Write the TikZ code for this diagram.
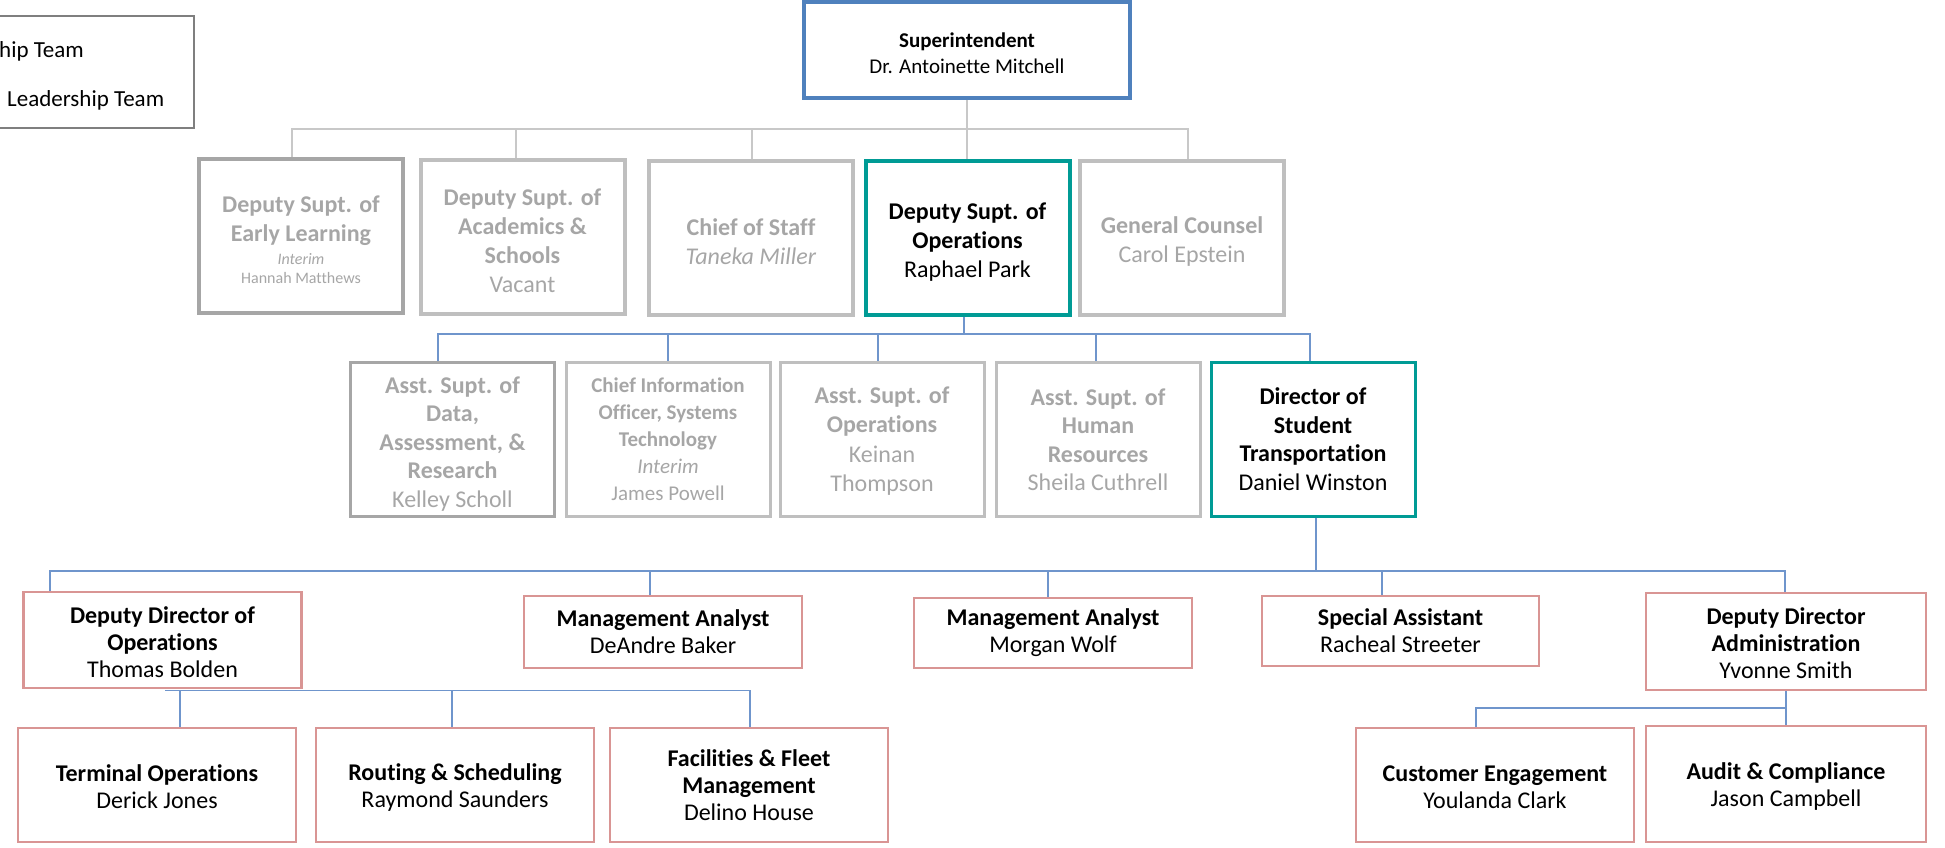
\documentclass[tikz,border=0pt]{standalone}
\usepackage{fontspec}
\setmainfont{Carlito}[Ligatures=NoCommon]
\definecolor{supblue}{HTML}{4F81BD}
\definecolor{tealb}{HTML}{009B95}
\definecolor{dgray}{HTML}{A6A6A6}
\definecolor{lgray}{HTML}{BFBFBF}
\definecolor{txgray}{HTML}{A6A6A6}
\definecolor{redb}{HTML}{D99594}
\definecolor{connblue}{HTML}{6F95CC}
\definecolor{conngray}{HTML}{C8C8C8}
\definecolor{leggray}{HTML}{7F7F7F}
\newcommand\tpa{\rule{0pt}{25pt}}
\newcommand\tpb{\rule{0pt}{21pt}}
\newcommand\tpc{\rule{0pt}{22pt}}
\tikzset{
  box/.style={draw, inner sep=0pt, align=center, anchor=center},
  suptbox/.style={box, draw=supblue, line width=3.5pt, minimum width=326pt, minimum height=96pt, font=\fontsize{21}{26}\selectfont},
  lvone/.style={box, line width=4pt, minimum width=204pt, minimum height=154pt, font=\fontsize{24}{29}\selectfont},
  lvtwo/.style={box, line width=3pt, minimum width=204pt, minimum height=154pt, font=\fontsize{24}{28.5}\selectfont},
  inact/.style={text=txgray},
  staff/.style={box, draw=redb, line width=2.3pt, minimum width=278pt, font=\fontsize{24}{27}\selectfont},
  gconn/.style={draw=conngray, line width=2pt},
  bconn/.style={draw=connblue, line width=1.6pt},
  legtext/.style={inner sep=0pt, font=\fontsize{23}{27}\selectfont}
}
\begin{document}
\begin{tikzpicture}[x=1pt,y=-1pt]
\useasboundingbox (0,0) rectangle (1945,847);
\clip (0,0) rectangle (1945,847);

% legend (cropped at left)
\node[draw=leggray, line width=2pt, minimum width=204pt, minimum height=112pt, inner sep=0pt] (legend) at (92,72) {};
\node[legtext, anchor=west] (legone) at (-1,51) {hip Team};
\node[legtext, anchor=west] (legtwo) at (7,100) {Leadership Team};

% superintendent
\node[suptbox] (sup) at (967,50) {\tpc\textbf{Superintendent}\\Dr. Antoinette Mitchell};

% level 1
\node[lvone, draw=dgray, inact] (a) at (301,236) {\tpa\textbf{Deputy Supt. of}\\\textbf{Early Learning}\\[-6pt]{\fontsize{16}{19}\selectfont\itshape Interim}\\[-10pt]{\fontsize{16}{19}\selectfont Hannah Matthews}};
\node[lvone, draw=lgray, inact] (b) at (522.5,237) {\tpa\textbf{Deputy Supt. of}\\\textbf{Academics \&}\\\textbf{Schools}\\Vacant};
\node[lvone, draw=lgray, inact] (c) at (751,238) {\tpa\textbf{Chief of Staff}\\\textit{Taneka Miller}};
\node[lvone, draw=tealb] (d) at (967.5,237.5) {\tpa\textbf{Deputy Supt. of}\\\textbf{Operations}\\Raphael Park};
\node[lvone, draw=lgray, inact] (e) at (1182,237.5) {\tpa\textbf{General Counsel}\\Carol Epstein};

% level 2
\node[lvtwo, draw=dgray, inact] (f) at (452.5,439.5) {\tpa\textbf{Asst. Supt. of}\\\textbf{Data,}\\\textbf{Assessment, \&}\\\textbf{Research}\\Kelley Scholl};
\node[lvtwo, draw=lgray, inact, font=\fontsize{21}{27}\selectfont] (g) at (668,439) {\textbf{Chief Information}\\\textbf{Officer, Systems}\\\textbf{Technology}\\\textit{Interim}\\James Powell};
\node[lvtwo, draw=lgray, inact, font=\fontsize{24}{29.5}\selectfont] (h) at (882,439) {\tpb\textbf{Asst. Supt. of}\\\textbf{Operations}\\Keinan\\Thompson};
\node[lvtwo, draw=lgray, inact] (i) at (1098,439.5) {\textbf{Asst. Supt. of}\\\textbf{Human}\\\textbf{Resources}\\Sheila Cuthrell};
\node[lvtwo, draw=tealb] (j) at (1313,439) {\textbf{Director of}\\\textbf{Student}\\\textbf{Transportation}\\Daniel Winston};

% level 3
\node[staff, minimum height=96pt] (k) at (162.5,640) {\tpb\textbf{Deputy Director of}\\\textbf{Operations}\\Thomas Bolden};
\node[staff, minimum height=72pt] (l) at (663,632) {\textbf{Management Analyst}\\DeAndre Baker};
\node[staff, minimum height=70pt] (m) at (1053,633) {\textbf{Management Analyst}\\Morgan Wolf};
\node[staff, minimum width=277pt, minimum height=70pt] (n) at (1400.5,631) {\textbf{Special Assistant}\\Racheal Streeter};
\node[staff, minimum width=280pt, minimum height=97pt] (o) at (1786,641.5) {\tpb\textbf{Deputy Director}\\\textbf{Administration}\\Yvonne Smith};

% level 4
\node[staff, minimum height=114pt] (p) at (157,785) {\tpb\textbf{Terminal Operations}\\Derick Jones};
\node[staff, minimum height=114pt] (q) at (455,785) {\tpb\textbf{Routing \& Scheduling}\\Raymond Saunders};
\node[staff, minimum height=114pt] (r) at (749,785) {\textbf{Facilities \& Fleet}\\\textbf{Management}\\Delino House};
\node[staff, minimum height=114pt] (s) at (1495,785) {\tpb\textbf{Customer Engagement}\\Youlanda Clark};
\node[staff, minimum width=280pt, minimum height=116pt] (t) at (1786,784) {\tpb\textbf{Audit \& Compliance}\\Jason Campbell};

% connection points
\coordinate (busone) at (0,129);
\coordinate (bustwo) at (0,334);
\coordinate (busthree) at (0,571);
\coordinate (busfour) at (0,708);
\coordinate (atop) at ([xshift=-9pt]a.north);
\coordinate (btop) at ([xshift=-6.5pt]b.north);
\coordinate (ctop) at ([xshift=1pt]c.north);
\coordinate (etop) at ([xshift=6pt]e.north);
\coordinate (dbot) at ([xshift=-3.5pt]d.south);
\coordinate (ftop) at ([xshift=-14.5pt]f.north);
\coordinate (gtop) at (g.north);
\coordinate (htop) at ([xshift=-4pt]h.north);
\coordinate (itop) at ([xshift=-2pt]i.north);
\coordinate (jtop) at ([xshift=-3pt]j.north);
\coordinate (jbot) at ([xshift=3pt]j.south);
\coordinate (ktop) at ([xshift=-112.5pt]k.north);
\coordinate (ltop) at ([xshift=-13pt]l.north);
\coordinate (mtop) at ([xshift=-5pt]m.north);
\coordinate (ntop) at ([xshift=-18.5pt]n.north);
\coordinate (otop) at ([xshift=-1pt]o.north);
\coordinate (kbus) at ([xshift=2.5pt,yshift=-1.5pt]k.south);
\coordinate (ptop) at ([xshift=23pt]p.north);
\coordinate (qtop) at ([xshift=-3pt]q.north);
\coordinate (rtop) at ([xshift=1pt]r.north);
\coordinate (stop) at ([xshift=-19pt]s.north);

% level 1 connectors (gray)
\draw[gconn] (sup.south) -- (sup.south |- d.north);
\draw[gconn] (atop) |- (etop |- busone) -- (etop);
\draw[gconn] (btop) -- (btop |- busone);
\draw[gconn] (ctop) -- (ctop |- busone);

% level 2 connectors (blue)
\draw[bconn] (dbot) -- (dbot |- bustwo);
\draw[bconn] (ftop) |- (jtop |- bustwo) -- (jtop);
\draw[bconn] (gtop) -- (gtop |- bustwo);
\draw[bconn] (htop) -- (htop |- bustwo);
\draw[bconn] (itop) -- (itop |- bustwo);

% level 3 connectors
\draw[bconn] (jbot) -- (jbot |- busthree);
\draw[bconn] (ktop) |- (otop |- busthree) -- (otop);
\draw[bconn] (ltop) -- (ltop |- busthree);
\draw[bconn] (mtop) -- (mtop |- busthree);
\draw[bconn] (ntop) -- (ntop |- busthree);

% level 4 connectors
\draw[bconn] (kbus) -| (rtop);
\draw[bconn] (ptop) -- (ptop |- kbus);
\draw[bconn] (qtop) -- (qtop |- kbus);
\draw[bconn] (o.south) -- (o.south |- t.north);
\draw[bconn] (stop) |- (o.south |- busfour);
\end{tikzpicture}
\end{document}
